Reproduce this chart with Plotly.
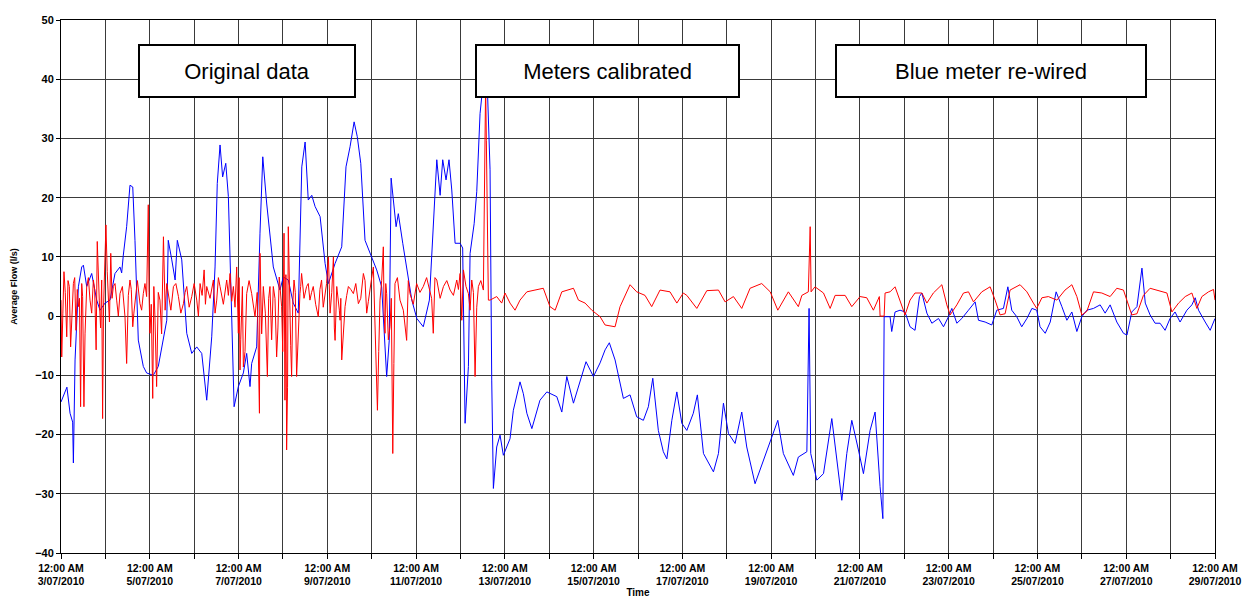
import pandas as pd
import plotly.graph_objects as go

START = pd.Timestamp("2010-07-03 00:00")

# Blue meter: hours since 3/07/2010 00:00 and average flow (l/s)
blue_hours = [0, 3.2, 4.9, 6.3, 6.7, 7.6, 9.4, 11.2, 12.1, 13.9, 16.6, 19.3, 21.1, 23.8, 26.5, 29.2, 31.9, 32.8, 33.7, 35.5,
              37.3, 38.8, 40.0, 41.8, 44.5, 46.3, 49.9, 52.6, 57.2, 58.0, 59.9, 61.7, 62.9, 65.3, 68.0, 70.7, 73.4, 76.1, 78.8, 81.5,
              83.3, 84.5, 86.0, 87.4, 89.1, 90.5, 92.3, 93.6, 95.9, 98.6, 100.4, 102.2, 103.1, 105.8, 107.6, 109.1, 111.2, 114.8, 118.4, 120.2,
              122.9, 125.6, 128.3, 130.2, 132.0, 133.7, 135.6, 137.4, 140.1, 142.8, 144.6, 148.2, 151.8, 154.1, 156.3, 158.5, 160.2, 162.1, 164.4, 167.1,
              170.7, 173.4, 175.2, 176.1, 177.5, 178.5, 181.2, 182.4, 184.8, 187.0, 189.7, 192.4, 195.9, 199.2, 201.3, 203.2, 205.0, 206.4, 208.2, 209.8,
              211.3, 213.1, 215.8, 217.2, 218.5, 220.3, 221.2, 223.4, 224.8, 226.6, 227.5, 228.8, 230.4, 232.0, 232.9, 233.8, 235.6, 237.4, 239.2, 242.8,
              244.6, 248.2, 250.0, 251.9, 254.6, 259.0, 262.7, 268.1, 270.8, 273.5, 277.1, 280.7, 283.9, 287.9, 291.5, 294.2, 296.5, 299.6, 304.1, 307.7,
              311.3, 314.9, 317.6, 320.0, 323.0, 325.7, 327.6, 330.3, 333.0, 335.7, 338.4, 341.9, 344.1, 347.4, 352.8, 355.5, 358.2, 360.9, 364.5, 368.1,
              370.8, 375.3, 379.8, 384.3, 387.6, 390.6, 396.0, 398.7, 403.3, 404.5, 405.4, 408.7, 412.3, 416.8, 419.5, 422.2, 424.9, 427.6, 431.2, 433.9,
              437.5, 440.2, 442.9, 444.4, 445.1, 448.3, 449.2, 451.0, 453.7, 456.4, 459.1, 461.8, 464.2, 465.5, 468.2, 470.9, 474.5, 477.2, 479.9, 481.7,
              484.4, 487.1, 490.7, 494.3, 496.1, 499.7, 503.3, 506.0, 509.6, 512.0, 514.1, 516.8, 519.5, 522.3, 525.0, 527.6, 529.4, 532.2, 534.9, 538.1,
              541.2, 543.9, 546.6, 549.3, 552.0, 554.7, 558.3, 561.9, 564.6, 567.3, 570.9, 574.5, 576.4, 579.0, 581.8, 584.5, 586.3, 588.9, 591.6, 594.3,
              597.0, 599.7, 602.4, 605.1, 608.8, 611.5, 613.3, 615.1, 618.7, 621.4, 624.0]
blue_flow = [-14.5, -12.0, -16.4, -17.9, -24.8, -7.4, 4.95, 8.3, 8.6, 5.0, 7.2, 2.7, 1.0, 2.2, 2.7, 7.2, 8.3, 7.3, 10.3, 15.1,
             22.1, 21.8, 12.8, -4.05, -8.5, -9.6, -10.0, -8.5, -0.7, 12.8, 9.5, 6.1, 12.8, 9.5, -2.9, -6.3, -5.2, -6.3, -14.2, -3.5,
             8.3, 22.4, 28.9, 23.5, 25.8, 20.2, -0.1, -15.3, -11.9, -9.6, -6.3, -11.9, -8.0, -5.2, 14.0, 26.9, 19.1, 8.3, 4.4, 6.6,
             6.1, 2.2, 0.5, 25.2, 29.4, 19.6, 20.4, 18.5, 16.8, 8.9, 5.5, 8.9, 11.7, 25.2, 28.6, 32.8, 30.3, 25.8, 12.8, 10.6,
             7.8, 4.95, -6.3, -10.2, -4.05, 23.3, 15.1, 17.3, 12.3, 8.3, 2.7, -0.4, -1.8, 2.7, 15.1, 26.4, 20.4, 26.4, 23.0, 26.4,
             21.3, 12.3, 12.3, 11.5, -18.1, -8.5, 10.6, 15.6, 21.0, 34.2, 37.0, 44.0, 40.0, 24.7, -10.8, -29.1, -22.1, -20.1, -23.5, -20.7,
             -15.9, -11.1, -13.1, -16.4, -19.0, -14.2, -12.8, -13.6, -16.2, -10.2, -14.7, -10.8, -7.7, -10.2, -7.9, -5.7, -4.5, -7.4, -13.9, -13.3,
             -17.0, -17.6, -15.3, -10.5, -19.3, -22.9, -24.1, -17.6, -12.8, -18.1, -19.3, -16.4, -13.3, -23.2, -26.3, -23.2, -14.7, -19.8, -21.5, -16.2,
             -22.1, -28.3, -24.4, -20.4, -17.6, -23.2, -26.9, -23.8, -22.9, 1.3, -23.2, -27.7, -26.6, -17.3, -24.4, -31.1, -23.2, -17.6, -22.6, -26.6,
             -19.3, -16.2, -28.8, -34.2, -0.1, -0.1, -2.6, 0.7, 1.0, 0.7, -1.8, -2.4, 3.3, 3.9, 0.5, -1.2, -0.4, -1.8, -0.1, 1.3,
             -1.2, -0.4, 1.0, 2.4, -0.7, -1.0, -1.5, 1.0, 1.3, 4.95, 1.0, -0.1, -1.8, -0.4, 1.3, 1.0, -1.8, -2.9, -1.0, 4.1,
             1.6, -0.7, 0.7, -2.6, -0.1, 1.0, 1.3, 1.9, 0.5, 1.9, -1.0, -2.9, -3.2, 0.7, 1.6, 8.1, 2.2, 0.2, -1.2, -1.2,
             -2.4, -0.4, 0.7, -1.0, 1.0, 1.9, 3.1, 1.0, -1.0, -2.4, -0.4]

# Red meter: hours since 3/07/2010 00:00 and average flow (l/s)
red_hours = [0, 0.4, 1.6, 3.1, 4.5, 5.2, 6.7, 8.1, 9.4, 10.6, 11.7, 12.4, 13.9, 15.7, 17.5, 19.0, 19.6, 20.7, 22.0, 22.5,
             23.4, 24.3, 25.6, 26.9, 28.3, 30.1, 31.9, 34.6, 35.5, 37.3, 38.8, 40.0, 42.7, 44.5, 46.3, 47.2, 48.1, 49.6, 50.8, 51.7,
             53.5, 55.4, 56.3, 58.1, 60.8, 63.5, 66.2, 68.0, 70.7, 73.4, 75.2, 77.4, 78.8, 82.4, 84.2, 86.0, 89.6, 91.4, 93.2, 95.0,
             95.9, 96.8, 97.7, 98.6, 100.4, 103.1, 104.9, 107.3, 107.6, 109.4, 111.6, 113.0, 114.8, 116.6, 118.0, 119.3, 120.6, 121.1, 122.0, 122.9,
             123.8, 124.7, 126.0, 127.4, 129.2, 130.1, 132.8, 134.6, 136.4, 139.1, 140.9, 142.7, 144.6, 145.5, 147.3, 148.2, 150.0, 150.9, 151.8, 153.6,
             155.4, 158.1, 160.8, 163.5, 165.3, 167.1, 168.9, 170.3, 171.1, 172.5, 174.3, 175.2, 176.1, 177.9, 179.4, 180.6, 183.3, 186.9, 188.7, 192.3,
             195.9, 199.5, 201.3, 203.2, 206.8, 210.4, 214.0, 215.8, 216.7, 217.6, 220.3, 222.1, 223.9, 225.7, 228.4, 229.6, 230.0, 231.1, 232.0, 235.6,
             238.3, 240.1, 242.8, 245.5, 248.2, 251.9, 256.3, 260.8, 264.4, 267.2, 270.8, 277.1, 279.8, 283.4, 287.0, 291.5, 294.2, 299.6, 302.3, 307.7,
             311.3, 315.8, 319.4, 323.9, 329.3, 333.0, 336.5, 338.4, 343.8, 349.2, 355.5, 359.1, 363.6, 368.1, 372.6, 378.9, 383.5, 387.6, 393.3, 398.7,
             400.6, 404.1, 405.1, 405.6, 407.7, 412.3, 415.9, 418.6, 424.0, 427.6, 432.1, 435.7, 439.3, 442.5, 442.9, 445.1, 445.6, 448.3, 451.0, 452.8,
             456.4, 459.1, 461.8, 465.5, 468.2, 471.7, 476.3, 479.0, 480.8, 484.4, 488.0, 490.7, 493.4, 497.9, 502.4, 505.1, 507.8, 510.5, 513.2, 518.6,
             522.3, 525.8, 527.6, 530.4, 533.9, 538.5, 542.9, 546.6, 549.3, 552.0, 554.7, 558.3, 562.8, 567.3, 570.9, 574.5, 579.0, 581.8, 585.3, 588.9,
             592.6, 598.0, 600.7, 604.3, 607.9, 611.5, 614.2, 616.9, 620.5, 623.2, 624.0]
red_flow = [2.7, -6.9, 7.5, -3.5, 5.0, -5.2, 5.5, -2.4, 1.6, -15.3, 3.3, -15.3, 5.0, 2.7, 6.1, -5.7, 12.6, 2.7, 6.1, -17.3,
            5.0, 15.4, 2.7, 10.6, 5.0, 2.7, 3.8, -0.1, -8.0, 6.1, -1.8, 2.7, 2.1, 3.8, 3.3, 18.8, -2.9, -13.9, -0.1, -11.9,
            2.7, 13.4, 1.0, 3.3, 5.0, 3.3, 2.1, 5.0, 3.3, 2.7, 5.5, 7.8, 5.0, 6.1, 2.7, 5.0, 6.1, 7.2, 5.0, 8.3,
            -2.9, -9.1, 2.7, -8.6, 3.8, 3.8, -0.1, -16.4, 10.6, 5.0, -10.2, 5.0, 5.0, -6.9, 6.6, 1.6, 14.0, -14.2, -22.6, 15.1,
            -2.9, -10.2, 6.1, -10.2, 3.8, 7.2, 5.0, 2.7, 5.0, -0.1, 6.1, 3.8, 10.0, 0.5, 10.0, -4.1, 2.7, -0.7, -7.4, 1.6,
            5.0, 3.8, 2.1, 7.2, 0.5, 5.0, 8.3, -4.6, -15.9, 2.7, 11.7, -2.9, 3.8, -1.8, -23.2, 5.5, 2.7, -4.1, 3.8, 5.5,
            5.0, 4.4, -2.9, 6.1, 5.0, 4.4, 6.1, 7.2, -0.7, 7.8, 3.8, 6.1, -10.2, 5.0, 4.4, 39.0, 29.7, 2.7, 2.7, 3.3,
            2.2, 3.9, 2.2, 1.0, 2.7, 4.1, 4.4, 4.7, 1.6, 1.0, 4.1, 4.7, 2.7, 2.2, 1.0, -0.1, -1.5, -1.8, 1.6, 5.3,
            4.1, 3.5, 1.6, 4.4, 4.1, 2.2, 3.9, 3.5, 1.3, 4.3, 4.4, 2.4, 3.3, 1.3, 4.7, 5.5, 4.1, 1.0, 4.1, 1.6,
            3.5, 4.1, 15.1, 4.1, 4.95, 3.9, 1.3, 3.5, 3.5, 1.6, 3.3, 3.1, 1.0, 3.3, 0.0, 0.0, 3.9, 4.1, 4.95, 3.3,
            0.2, 2.7, 3.9, 3.9, 2.2, 3.9, 5.3, 1.9, 0.2, 1.9, 3.9, 4.1, 2.4, 4.1, 4.95, 2.7, 0.2, 0.4, 4.4, 5.3,
            4.1, 2.2, 1.3, 3.1, 3.3, 2.7, 4.4, 5.3, 3.3, 0.2, 0.8, 4.1, 3.9, 3.3, 4.7, 4.4, 0.2, 0.4, 3.5, 4.7,
            4.4, 3.9, 0.7, 2.2, 3.3, 3.9, 1.3, 3.3, 4.1, 4.5, 2.7]

# Extra red readings inside the noisy band of the first ten days
red_extra_hours = [1.0, 2.3, 3.8, 6.0, 7.4, 8.8, 10.0, 11.2, 13.0, 14.8, 16.6, 18.2, 21.4, 23.0, 25.0, 26.2, 27.6, 29.2, 31.0, 33.2,
                   36.4, 38.0, 39.4, 41.3, 43.6, 45.4, 47.6, 48.8, 50.2, 52.6, 54.4, 55.9, 57.2, 59.4, 62.1, 64.8, 67.1, 69.3, 72.0, 74.3,
                   76.3, 78.1, 80.6, 83.3, 85.1, 87.8, 90.5, 92.3, 94.1, 96.3, 97.2, 98.1, 99.5, 101.7, 104.0, 106.1, 108.5, 110.5, 112.3, 113.9,
                   115.7, 117.3, 118.7, 119.9, 121.6, 122.5, 123.4, 124.2, 125.3, 126.7, 128.3, 129.6, 131.4, 133.7, 135.5, 137.7, 140.0, 141.8, 143.6, 146.4,
                   147.8, 149.1, 150.5, 151.3, 152.7, 154.5, 156.7, 159.4, 162.1, 164.4, 166.2, 168.0, 169.6, 171.8, 173.4, 174.7, 175.6, 177.0, 178.6, 180.0,
                   181.9, 185.1, 187.8, 190.5, 194.1, 197.7, 200.4, 202.2, 205.0, 208.6, 212.2, 214.9, 219.0, 221.2, 223.0, 224.8, 227.0]
red_extra_flow = [0.5, 4.0, 6.0, 1.0, 6.5, 4.5, 3.0, 5.5, -3.0, 6.5, 0.5, 4.5, -2.0, 1.5, 7.5, -1.0, 3.0, 5.5, 0.0, 5.0,
                  3.5, 4.5, 0.5, 6.0, 1.0, 5.5, 4.0, 2.0, 5.0, 4.0, -3.0, 6.0, 5.5, 1.0, 5.5, 0.5, 4.0, 1.5, 5.5, 0.0,
                  3.5, 2.0, 3.0, 0.5, 6.5, 2.0, 3.5, 2.5, 1.5, 6.5, -4.0, 5.0, -6.0, 6.0, 1.5, 4.0, -3.0, 0.5, 3.0, -4.0,
                  3.0, -2.0, 3.0, -6.0, 7.0, -12.0, 6.0, -5.0, 2.0, 4.0, -2.0, 5.0, 3.0, 5.5, 4.0, 2.0, 4.5, 1.5, 5.5, 4.0,
                  -2.0, 5.0, 1.0, 3.0, -3.0, 3.5, 4.5, 5.5, 3.0, 6.0, 2.5, 6.5, 1.5, -6.0, 6.0, 0.5, 5.5, -4.0, 3.0, -8.0,
                  6.5, 1.0, 6.0, 2.0, 4.0, 6.5, 3.0, 6.5, 3.0, 6.0, 3.5, 4.5, 5.0, 1.0, 4.0, 1.5, 6.0]

tick_dates = ["2010-07-03", "2010-07-05", "2010-07-07", "2010-07-09", "2010-07-11", "2010-07-13", "2010-07-15",
              "2010-07-17", "2010-07-19", "2010-07-21", "2010-07-23", "2010-07-25", "2010-07-27", "2010-07-29"]
tick_labels = ["12:00 AM<br>3/07/2010", "12:00 AM<br>5/07/2010", "12:00 AM<br>7/07/2010", "12:00 AM<br>9/07/2010",
               "12:00 AM<br>11/07/2010", "12:00 AM<br>13/07/2010", "12:00 AM<br>15/07/2010", "12:00 AM<br>17/07/2010",
               "12:00 AM<br>19/07/2010", "12:00 AM<br>21/07/2010", "12:00 AM<br>23/07/2010", "12:00 AM<br>25/07/2010",
               "12:00 AM<br>27/07/2010", "12:00 AM<br>29/07/2010"]

period_labels = ["Original data", "Meters calibrated", "Blue meter re-wired"]
period_centres = ["2010-07-07 04:36", "2010-07-15 07:30", "2010-07-23 22:55"]
period_widths = [214, 261, 308]

blue_t = START + pd.to_timedelta(blue_hours, unit="h")

red_pairs = sorted(zip(red_hours + red_extra_hours, red_flow + red_extra_flow))
red_t = START + pd.to_timedelta([p[0] for p in red_pairs], unit="h")
red_v = [p[1] for p in red_pairs]

fig = go.Figure()
fig.add_trace(go.Scatter(x=blue_t, y=blue_flow, mode="lines", line=dict(color="#0000ff", width=1),
                         name="Blue", showlegend=False))
fig.add_trace(go.Scatter(x=red_t, y=red_v, mode="lines", line=dict(color="#ff0000", width=1),
                         name="Red", showlegend=False))

for lab, cx, w in zip(period_labels, period_centres, period_widths):
    fig.add_annotation(x=cx, y=0.9043, xref="x", yref="paper", xanchor="center", yanchor="middle",
                       text=lab, showarrow=False,
                       font=dict(family="Arial, Liberation Sans", size=22, color="black"),
                       bgcolor="white", bordercolor="black", borderwidth=2, borderpad=0,
                       width=w, height=50, align="center", valign="middle")

axis_family = "Arial, Liberation Sans"
x_tick_font = dict(family=axis_family, size=10.5, color="black")
y_tick_font = dict(family=axis_family, size=11, color="black")

fig.update_layout(
    width=1244, height=599,
    margin=dict(l=61, r=29, t=20, b=46),
    paper_bgcolor="white", plot_bgcolor="white",
    xaxis=dict(
        type="date", automargin=False,
        range=[START, START + pd.Timedelta(hours=624)],
        tickmode="array", tickvals=tick_dates,
        ticktext=[f"<b>{t.replace('<br>', '</b><br><b>')}</b>" for t in tick_labels],
        tickfont=x_tick_font, ticks="outside", ticklen=5, tickcolor="black",
        showgrid=True, gridcolor="#3a3a3a", gridwidth=1,
        minor=dict(dtick=86400000, tick0="2010-07-03", showgrid=True, gridcolor="#3a3a3a", gridwidth=1,
                   ticks="outside", ticklen=5, tickcolor="black"),
        showline=True, linecolor="black", linewidth=1, mirror=True,
        zeroline=False,
        title=dict(text="<b>Time</b>", font=dict(family=axis_family, size=10, color="black"), standoff=2),
    ),
    yaxis=dict(
        automargin=False,
        range=[-40, 50], dtick=10, tick0=0,
        tickfont=y_tick_font, tickprefix="<b>", ticksuffix="</b>",
        ticks="outside", ticklen=4, tickcolor="black",
        showgrid=True, gridcolor="#3a3a3a", gridwidth=1,
        showline=True, linecolor="black", linewidth=1, mirror=True,
        zeroline=False,
        title=dict(text="<b>Average Flow (l/s)</b>", font=dict(family=axis_family, size=9, color="black"),
                   standoff=15),
    ),
)

# remove the page's default 8 px body margin so the figure fills the window exactly
fig.write_html("out.html", config={"displayModeBar": False},
               post_script="document.body.style.margin='0';document.body.style.overflow='hidden';")
